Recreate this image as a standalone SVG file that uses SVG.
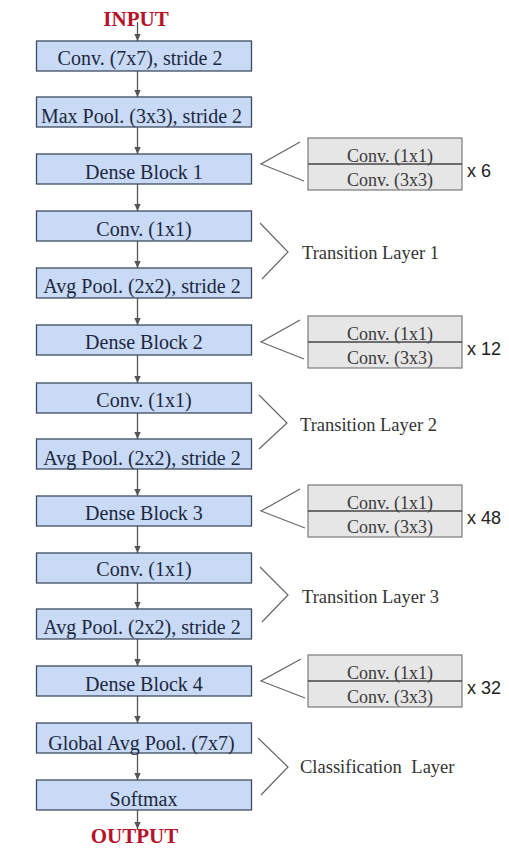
<svg xmlns="http://www.w3.org/2000/svg" width="509" height="855" viewBox="0 0 509 855">
<style>
.box{fill:#c8daf6;stroke:#3e4c60;stroke-width:1.3}
.side{fill:#e6e6e6;stroke:#7a7a7a;stroke-width:1.2}
.t{font-family:"Liberation Serif","Times New Roman",serif;font-size:20px;fill:#1c2740;text-anchor:middle}
.st{font-family:"Liberation Serif","Times New Roman",serif;font-size:18px;fill:#3a3a3a;text-anchor:middle}
.lbl{font-family:"Liberation Serif","Times New Roman",serif;font-size:18.5px;fill:#333}
.rep{font-family:"Liberation Sans",Arial,sans-serif;font-size:18px;fill:#222}
.io{font-family:"Liberation Serif","Times New Roman",serif;font-size:21px;font-weight:bold;fill:#b5122a;text-anchor:middle}
.ar{stroke:#555;stroke-width:1.3;fill:none;marker-end:url(#ah)}
.br{stroke:#666;stroke-width:1.2;fill:none}
</style>
<defs>
<marker id="ah" markerWidth="8" markerHeight="8" refX="7" refY="4" orient="auto" markerUnits="userSpaceOnUse">
<path d="M0,0.8 L7,4 L0,7.2 Z" fill="#555"/>
</marker>
</defs>
<rect width="509" height="855" fill="#ffffff"/>
<g id="connectors">
<line class="ar" x1="137.5" y1="22" x2="137.5" y2="41"/>
<line class="ar" x1="137.5" y1="71" x2="137.5" y2="97"/>
<line class="ar" x1="137.5" y1="127" x2="137.5" y2="154"/>
<line class="ar" x1="137.5" y1="184" x2="137.5" y2="211"/>
<line class="ar" x1="137.5" y1="241" x2="137.5" y2="268"/>
<line class="ar" x1="137.5" y1="298" x2="137.5" y2="325"/>
<line class="ar" x1="137.5" y1="355" x2="137.5" y2="383"/>
<line class="ar" x1="137.5" y1="413" x2="137.5" y2="439"/>
<line class="ar" x1="137.5" y1="469" x2="137.5" y2="496"/>
<line class="ar" x1="137.5" y1="526" x2="137.5" y2="553"/>
<line class="ar" x1="137.5" y1="583" x2="137.5" y2="609"/>
<line class="ar" x1="137.5" y1="639" x2="137.5" y2="666"/>
<line class="ar" x1="137.5" y1="696" x2="137.5" y2="723"/>
<line class="ar" x1="137.5" y1="753" x2="137.5" y2="780"/>
<line class="ar" x1="137.5" y1="810" x2="137.5" y2="829"/>
<polyline class="br" points="300,142 261,164 304,181"/>
<polyline class="br" points="300,320 261,342 304,359"/>
<polyline class="br" points="300,489 261,511 305,528"/>
<polyline class="br" points="301,659 261,681 305,698"/>
<polyline class="br" points="260,223 288,252 262,279"/>
<polyline class="br" points="259,395 287,423 259,449"/>
<polyline class="br" points="260,567 288,595 262,622"/>
<polyline class="br" points="258,738 288,767 261,795"/>
</g>
<g id="input"><text class="io" x="136" y="26">INPUT</text></g>
<g id="conv7"><rect class="box" x="36.5" y="41" width="215" height="30"/><text class="t" x="140" y="64.5">Conv. (7x7), stride 2</text></g>
<g id="maxpool"><rect class="box" x="36.5" y="97" width="215" height="30"/><text class="t" x="141.5" y="122.5">Max Pool. (3x3), stride 2</text></g>
<g id="db1"><rect class="box" x="36.5" y="154" width="215" height="30"/><text class="t" x="144" y="179">Dense Block 1</text></g>
<g id="t1conv"><rect class="box" x="36.5" y="211" width="215" height="30"/><text class="t" x="144" y="236">Conv. (1x1)</text></g>
<g id="t1pool"><rect class="box" x="36.5" y="268" width="215" height="30"/><text class="t" x="142" y="293">Avg Pool. (2x2), stride 2</text></g>
<g id="db2"><rect class="box" x="36.5" y="325" width="215" height="30"/><text class="t" x="144" y="348.5">Dense Block 2</text></g>
<g id="t2conv"><rect class="box" x="36.5" y="383" width="215" height="30"/><text class="t" x="144" y="407">Conv. (1x1)</text></g>
<g id="t2pool"><rect class="box" x="36.5" y="439" width="215" height="30"/><text class="t" x="142" y="465">Avg Pool. (2x2), stride 2</text></g>
<g id="db3"><rect class="box" x="36.5" y="496" width="215" height="30"/><text class="t" x="144" y="520">Dense Block 3</text></g>
<g id="t3conv"><rect class="box" x="36.5" y="553" width="215" height="30"/><text class="t" x="144" y="576">Conv. (1x1)</text></g>
<g id="t3pool"><rect class="box" x="36.5" y="609" width="215" height="30"/><text class="t" x="142" y="633.5">Avg Pool. (2x2), stride 2</text></g>
<g id="db4"><rect class="box" x="36.5" y="666" width="215" height="30"/><text class="t" x="144" y="690.5">Dense Block 4</text></g>
<g id="gap"><rect class="box" x="36.5" y="723" width="215" height="30"/><text class="t" x="141.5" y="749.5">Global Avg Pool. (7x7)</text></g>
<g id="softmax"><rect class="box" x="36.5" y="780" width="215" height="30"/><text class="t" x="143.5" y="806">Softmax</text></g>
<g id="output"><text class="io" x="134.5" y="843">OUTPUT</text></g>
<g id="side1"><rect class="side" x="308" y="138" width="154" height="52"/><line x1="308" y1="164" x2="462" y2="164" stroke="#444" stroke-width="1.3"/><text class="st" x="390" y="162">Conv. (1x1)</text><text class="st" x="390" y="186">Conv. (3x3)</text><text class="rep" x="467" y="177">x 6</text></g>
<g id="side2"><rect class="side" x="308" y="316" width="154" height="52"/><line x1="308" y1="342" x2="462" y2="342" stroke="#444" stroke-width="1.3"/><text class="st" x="390" y="340">Conv. (1x1)</text><text class="st" x="390" y="364">Conv. (3x3)</text><text class="rep" x="467" y="355">x 12</text></g>
<g id="side3"><rect class="side" x="308" y="485" width="154" height="52"/><line x1="308" y1="511" x2="462" y2="511" stroke="#444" stroke-width="1.3"/><text class="st" x="390" y="509">Conv. (1x1)</text><text class="st" x="390" y="533">Conv. (3x3)</text><text class="rep" x="467" y="524">x 48</text></g>
<g id="side4"><rect class="side" x="308" y="655" width="154" height="52"/><line x1="308" y1="681" x2="462" y2="681" stroke="#444" stroke-width="1.3"/><text class="st" x="390" y="679">Conv. (1x1)</text><text class="st" x="390" y="703">Conv. (3x3)</text><text class="rep" x="467" y="694">x 32</text></g>
<g id="tl1"><text class="lbl" x="302" y="259">Transition Layer 1</text></g>
<g id="tl2"><text class="lbl" x="300" y="431">Transition Layer 2</text></g>
<g id="tl3"><text class="lbl" x="302" y="603">Transition Layer 3</text></g>
<g id="cls"><text class="lbl" x="300" y="773" word-spacing="5">Classification Layer</text></g>
</svg>
